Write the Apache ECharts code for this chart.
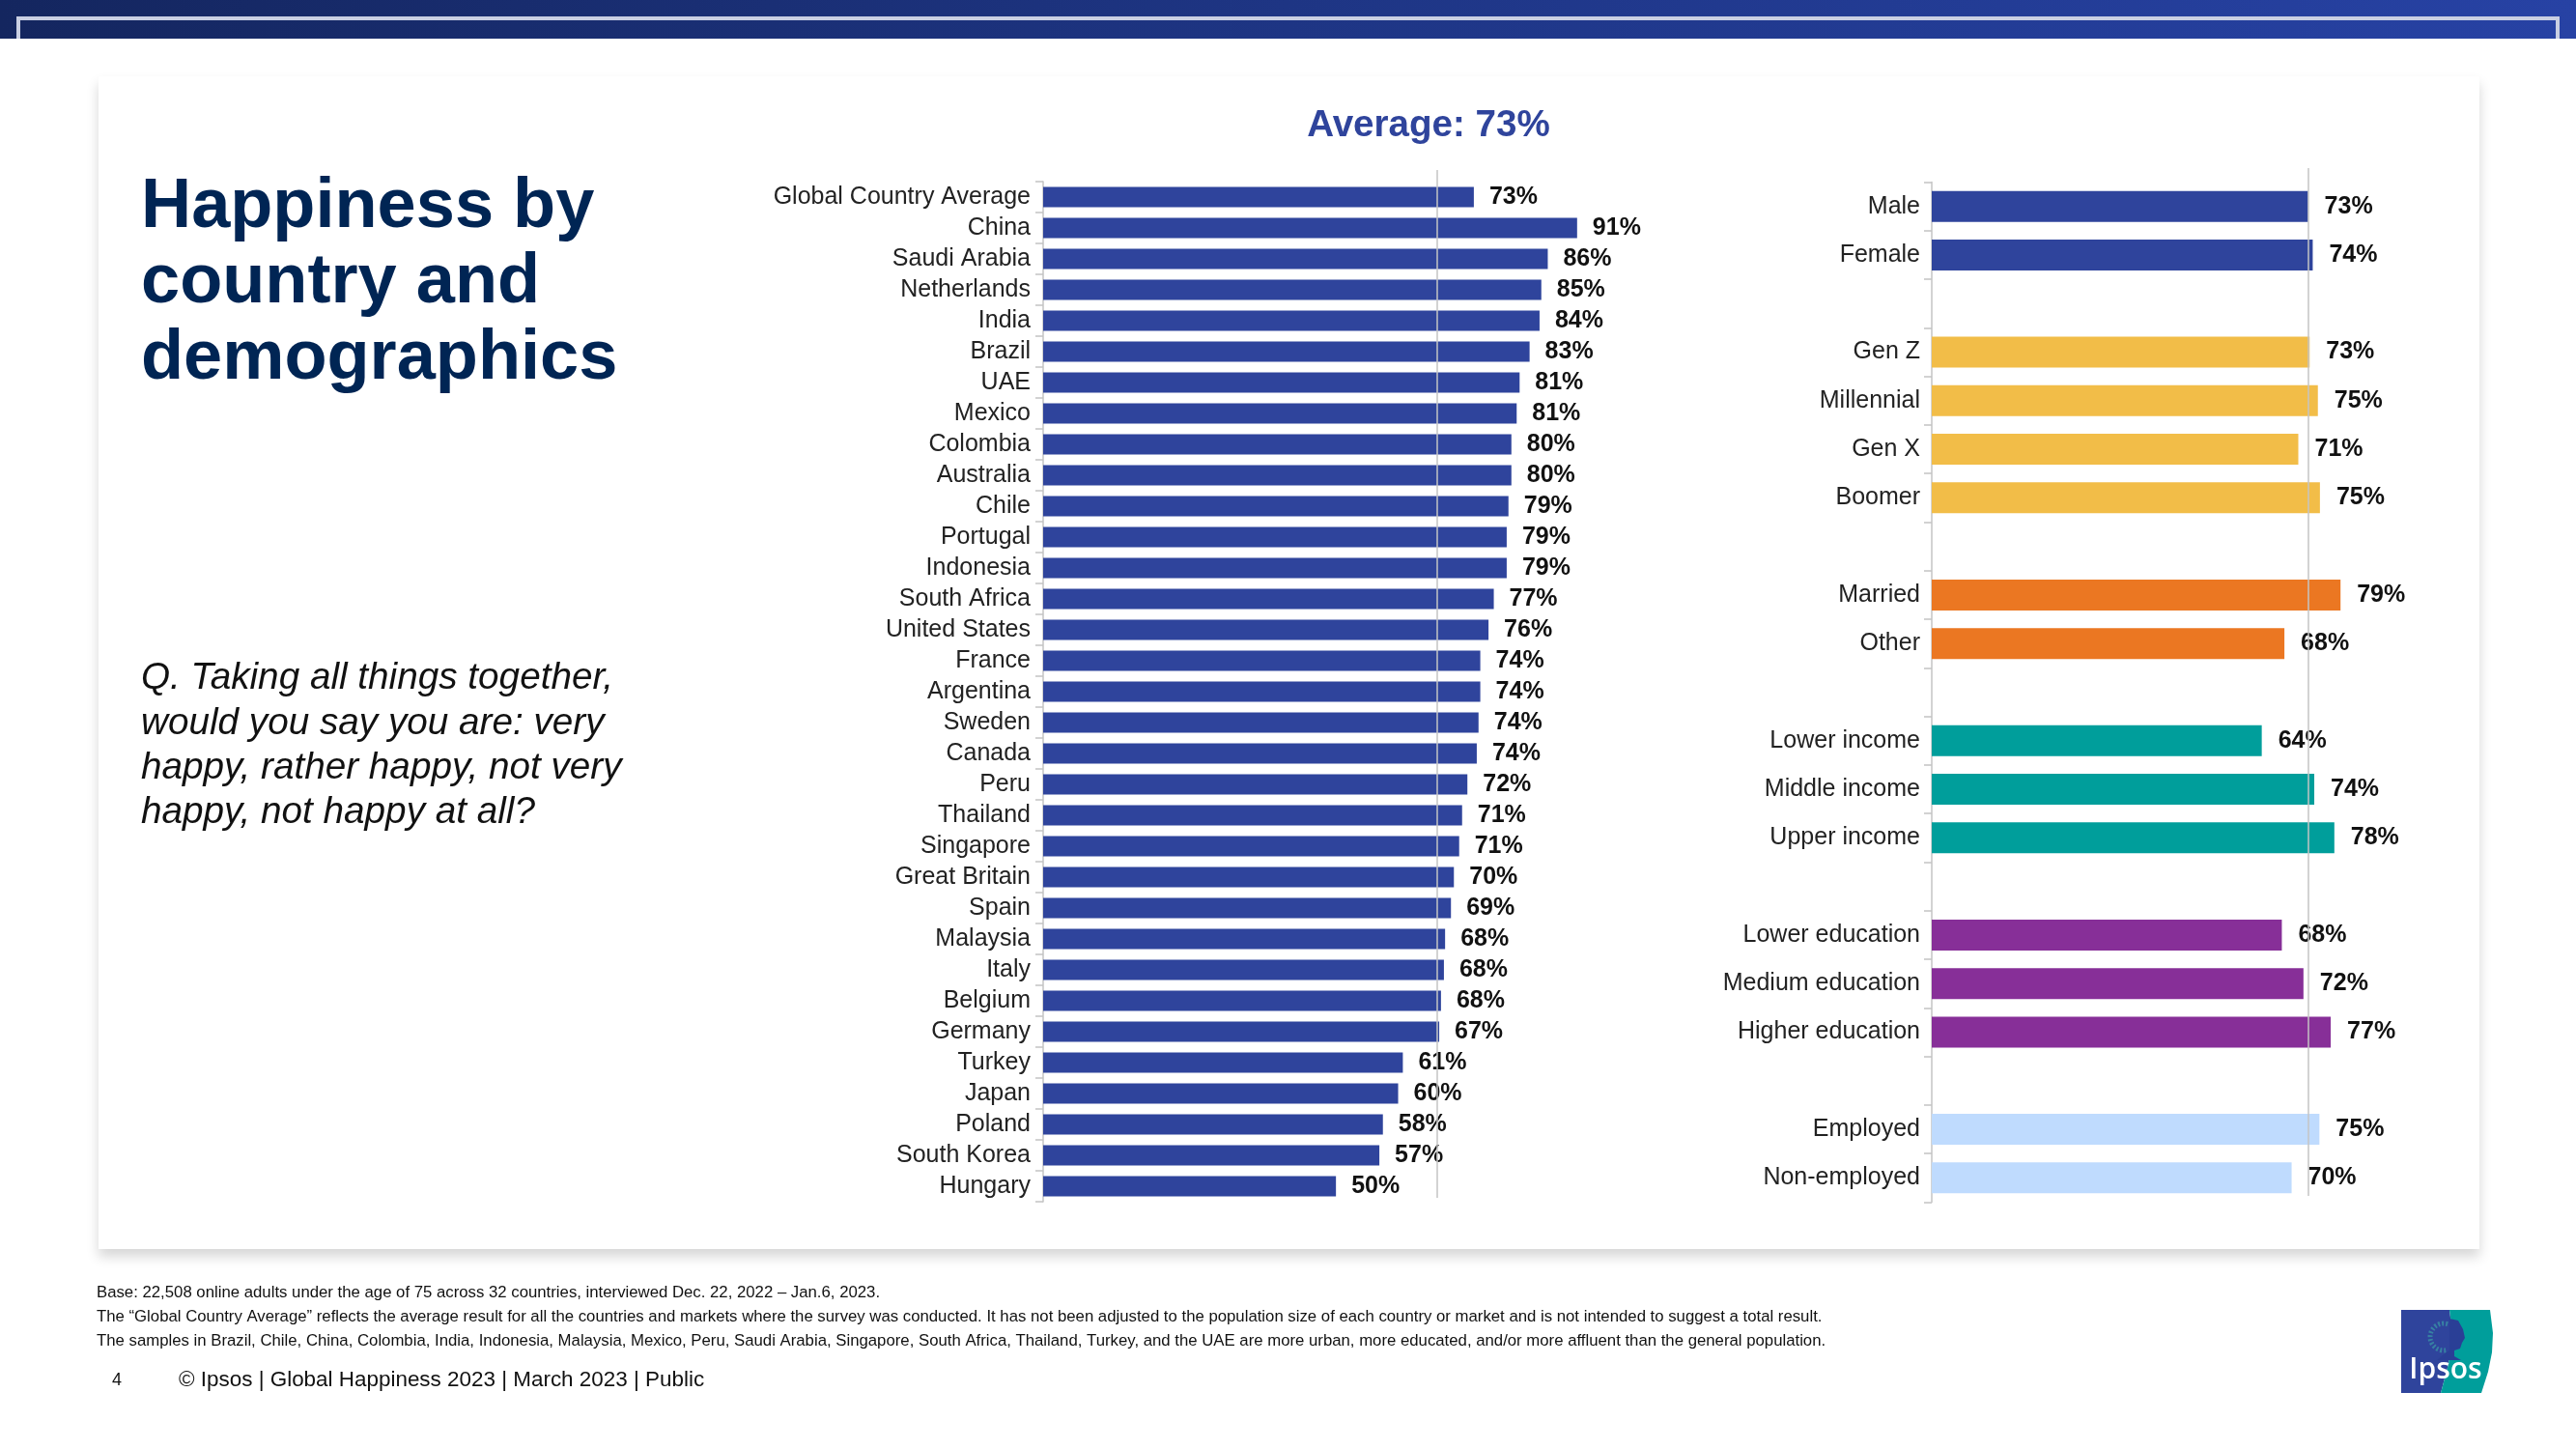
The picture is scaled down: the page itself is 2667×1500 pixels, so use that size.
<!DOCTYPE html>
<html>
<head>
<meta charset="utf-8">
<title>Happiness by country and demographics</title>
<script src="https://cdn.jsdelivr.net/npm/echarts@6/dist/echarts.min.js"></script>
<style>
html, body { margin: 0; padding: 0; background: #fff; }
#main { width: 2667px; height: 1500px; }
</style>
</head>
<body>
<div id="main"></div>
<script>
// values are bar lengths, labels are the printed percents
var countries = ["Global Country Average", "China", "Saudi Arabia", "Netherlands", "India", "Brazil", "UAE", "Mexico", "Colombia", "Australia", "Chile", "Portugal", "Indonesia", "South Africa", "United States", "France", "Argentina", "Sweden", "Canada", "Peru", "Thailand", "Singapore", "Great Britain", "Spain", "Malaysia", "Italy", "Belgium", "Germany", "Turkey", "Japan", "Poland", "South Korea", "Hungary"];
var countryValues = [73.4, 91.0, 86.0, 84.9, 84.6, 82.9, 81.2, 80.7, 79.8, 79.8, 79.3, 79.0, 79.0, 76.8, 75.9, 74.5, 74.5, 74.2, 73.9, 72.3, 71.4, 70.9, 70.0, 69.5, 68.5, 68.3, 67.8, 67.5, 61.3, 60.5, 57.9, 57.3, 49.9];
var countryLabels = [73, 91, 86, 85, 84, 83, 81, 81, 80, 80, 79, 79, 79, 77, 76, 74, 74, 74, 74, 72, 71, 71, 70, 69, 68, 68, 68, 67, 61, 60, 58, 57, 50];
var countryRefLine = 67.2;

var demographics = ["Male", "Female", "", "Gen Z", "Millennial", "Gen X", "Boomer", "", "Married", "Other", "", "Lower income", "Middle income", "Upper income", "", "Lower education", "Medium education", "Higher education", "", "Employed", "Non-employed"];
var demoValues = [73.1, 74.0, null, 73.4, 75.0, 71.2, 75.4, null, 79.4, 68.5, null, 64.1, 74.3, 78.2, null, 68.0, 72.2, 77.5, null, 75.3, 69.9];
var demoLabels = [73, 74, null, 73, 75, 71, 75, null, 79, 68, null, 64, 74, 78, null, 68, 72, 77, null, 75, 70];
var demoRefLine = 73.1;

var titleLines = ["Happiness by", "country and", "demographics"];
var questionLines = ["Q. Taking all things together,", "would you say you are: very", "happy, rather happy, not very", "happy, not happy at all?"];
var noteLines = [
    "Base: 22,508 online adults under the age of 75 across 32 countries, interviewed Dec. 22, 2022 – Jan.6, 2023.",
    "The “Global Country Average” reflects the average result for all the countries and markets where the survey was conducted. It has not been adjusted to the population size of each country or market and is not intended to suggest a total result.",
    "The samples in Brazil, Chile, China, Colombia, India, Indonesia, Malaysia, Mexico, Peru, Saudi Arabia, Singapore, South Africa, Thailand, Turkey, and the UAE are more urban, more educated, and/or more affluent than the general population."
];

var FONT = '"Liberation Sans", Arial, sans-serif';
var BLUE = '#2f449c';
var TEAL = '#009e9b';
var groupColors = [BLUE, '#f2bd48', '#eb7722', TEAL, '#872f98', '#bfdbfe'];

// a blank row starts the next colour group
var group = 0;
var demoData = demoValues.map(function(v) {
    if (v === null) { group++; return null; }
    return { value: v, itemStyle: { color: groupColors[group] } };
});

function text(str, x, y, font, fill, align) {
    return { type: 'text', z: 5, silent: true, style: { x: x, y: y, text: str, font: font, fill: fill, align: align || 'left', verticalAlign: 'middle' } };
}

function logoShape(points, fill) {
    return { type: 'polygon', z: 3, silent: true, shape: { points: points }, style: { fill: fill } };
}

function yAxisFor(i, cats, margin) {
    return {
        type: 'category', gridIndex: i, inverse: true, data: cats,
        axisLine: { show: true, lineStyle: { color: '#c4c4c4', width: 1.5 } },
        axisTick: { show: true, length: 8, lineStyle: { color: '#c4c4c4', width: 1.5 } },
        axisLabel: { interval: 0, margin: margin, color: '#222', fontSize: 25, fontFamily: FONT }
    };
}

function barSeries(i, data, labels, ref, barW, gap, lineTop, lineBottom) {
    return {
        type: 'bar', xAxisIndex: i, yAxisIndex: i, data: data, barWidth: barW, silent: true,
        itemStyle: { color: BLUE },
        label: {
            show: true, position: 'right', distance: gap, color: '#111',
            fontFamily: FONT, fontSize: 25, fontWeight: 'bold',
            formatter: function(p) { return labels[p.dataIndex] + '%'; }
        },
        markLine: {
            silent: true, symbol: 'none', animation: false,
            lineStyle: { color: '#c4c4c4', width: 1.5, type: 'solid' },
            label: { show: false },
            data: [[{ xAxis: ref, y: lineTop }, { xAxis: ref, y: lineBottom }]]
        }
    };
}

var graphics = [
    { type: 'rect', z: 0, silent: true, shape: { x: 102, y: 79, width: 2465, height: 1214 },
      style: { fill: '#fff', shadowColor: 'rgba(0,0,0,0.16)', shadowBlur: 12, shadowOffsetY: 8 } },
    { type: 'rect', z: 1, silent: true, shape: { x: 0, y: 0, width: 2667, height: 40 },
      style: { fill: new echarts.graphic.LinearGradient(0, 0, 1, 0, [{ offset: 0, color: '#14265f' }, { offset: 0.5, color: '#1e3584' }, { offset: 1, color: '#2742a4' }]) } },
    { type: 'polyline', z: 2, silent: true, shape: { points: [[19, 40], [19, 19], [2648, 19], [2648, 40]] },
      style: { stroke: '#c9cfe3', lineWidth: 4, fill: null } },
    text('Average: 73%', 1479, 130, 'bold 38.6px ' + FONT, BLUE, 'center'),
    text('4', 116, 1429, '18px ' + FONT, '#111', 'left'),
    text('© Ipsos | Global Happiness 2023 | March 2023 | Public', 185, 1429, '22.45px ' + FONT, '#111', 'left'),
    // logo
    logoShape([[2486, 1356], [2536, 1356], [2538, 1372], [2538, 1392], [2535, 1412], [2527, 1442], [2486, 1442]], BLUE),
    logoShape([[2536, 1356], [2578, 1356], [2581, 1380], [2580, 1400], [2576, 1420], [2569, 1442], [2527, 1442], [2535, 1412], [2538, 1392], [2538, 1372]], TEAL),
    { type: 'arc', z: 4, silent: true, shape: { cx: 2530, cy: 1384, r: 14, startAngle: Math.PI * 0.45, endAngle: Math.PI * 1.6, clockwise: true }, style: { stroke: '#3a9aa6', lineWidth: 5, lineDash: [2, 2], fill: null, opacity: 0.7 } },
    { type: 'polygon', z: 4, silent: true, shape: { points: [[2536, 1365], [2545, 1367], [2550, 1376], [2552, 1385], [2549, 1390], [2547, 1396], [2541, 1398], [2541, 1404], [2548, 1408], [2523, 1408], [2530, 1402], [2536, 1398]] }, style: { fill: '#2a3f96' } },
    text('Ipsos', 2532, 1418, '600 30px "Open Sans", ' + FONT, '#fff', 'center')
];
titleLines.forEach(function(s, i) { graphics.push(text(s, 146, 215 + i * 78.3, 'bold 72.2px ' + FONT, '#002554')); });
questionLines.forEach(function(s, i) { graphics.push(text(s, 146, 702.5 + i * 46.3, 'italic 38.7px ' + FONT, '#111')); });
noteLines.forEach(function(s, i) { graphics.push(text(s, 100, 1338 + i * 25.3, '16.75px ' + FONT, '#111')); });

var option = {
    animation: false,
    backgroundColor: '#fff',
    graphic: graphics,
    grid: [
        { left: 1080, top: 188, width: 607.5, height: 1056 },
        { left: 2000, top: 188.5, width: 533, height: 1056 }
    ],
    xAxis: [
        { type: 'value', gridIndex: 0, min: 0, max: 100, show: false },
        { type: 'value', gridIndex: 1, min: 0, max: 100, show: false }
    ],
    yAxis: [yAxisFor(0, countries, 13), yAxisFor(1, demographics, 12)],
    series: [
        barSeries(0, countryValues, countryLabels, countryRefLine, 21, 16, 176, 1240),
        barSeries(1, demoData, demoLabels, demoRefLine, 32, 17, 174, 1238)
    ]
};
echarts.init(document.getElementById('main')).setOption(option);
</script>
</body>
</html>
